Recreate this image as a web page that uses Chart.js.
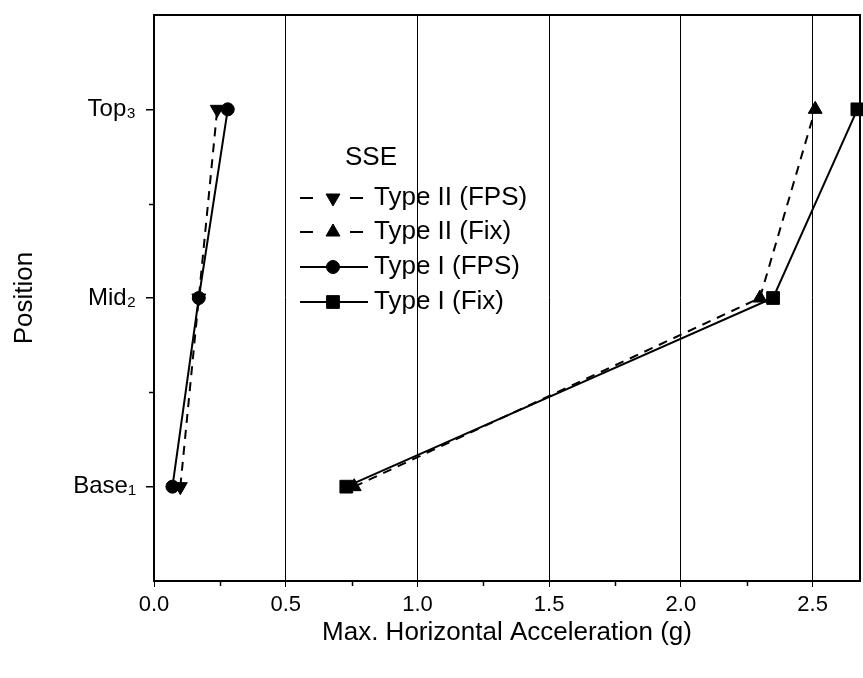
<!DOCTYPE html>
<html>
<head>
<meta charset="utf-8">
<script src="https://cdn.jsdelivr.net/npm/chart.js@4.4.1/dist/chart.umd.min.js"></script>
<style>
    html, body { margin: 0; padding: 0; background: #fff; }
    #wrap { width: 863px; height: 678px; }
</style>
</head>
<body>
<div id="wrap"><canvas id="accel-chart" width="863" height="678"></canvas></div>
<script>
// --- Data ---
const positionValues = [1, 2, 3];
const positionLabels = ['Base₁', 'Mid₂', 'Top₃'];
const xTickValues = [0, 0.5, 1.0, 1.5, 2.0, 2.5];
const xMinorTicks = [0.25, 0.75, 1.25, 1.75, 2.25];
const yMinorTicks = [1.5, 2.5];

const legendTitle = 'SSE';
const seriesNames = ['Type II (FPS)', 'Type II (Fix)', 'Type I (FPS)', 'Type I (Fix)'];
const typeIIFps = [0.10, 0.17, 0.24];
const typeIIFix = [0.76, 2.30, 2.51];
const typeIFps = [0.07, 0.17, 0.28];
const typeIFix = [0.73, 2.35, 2.67];

const FONT = "'Liberation Sans', Arial, sans-serif";

const toPoints = vals => vals.map((x, i) => ({ x, y: positionValues[i] }));

const makeSeries = (label, values, pointStyle, dashed, radius, rotation) => ({
    label,
    data: toPoints(values),
    showLine: true,
    borderColor: '#000',
    backgroundColor: '#000',
    borderWidth: 2,
    borderDash: dashed ? [9, 7] : [],
    pointStyle,
    pointRadius: radius,
    pointRotation: rotation,
    pointBorderWidth: 1,
    pointBorderColor: '#000',
    pointBackgroundColor: '#000',
    clip: false
});

const datasets = [
    makeSeries(seriesNames[0], typeIIFps, 'triangle', true, 8, 180),
    makeSeries(seriesNames[1], typeIIFix, 'triangle', true, 8, 0),
    makeSeries(seriesNames[2], typeIFps, 'circle', false, 6.5, 0),
    makeSeries(seriesNames[3], typeIFix, 'rect', false, 9, 0)
];

// --- Frame, minor ticks and the inside legend ---
const framePlugin = {
    id: 'frameAndLegend',
    afterDraw(chart) {
        const { ctx, chartArea: { left, right, top, bottom } } = chart;
        const xScale = chart.scales.x;
        const yScale = chart.scales.y;
        ctx.save();
        ctx.strokeStyle = '#000';
        ctx.lineWidth = 2;
        ctx.beginPath();
        ctx.moveTo(left, top);
        ctx.lineTo(right, top);
        ctx.lineTo(right, bottom);
        ctx.stroke();

        // minor ticks
        ctx.lineWidth = 1.5;
        ctx.beginPath();
        xMinorTicks.forEach(v => {
            const px = Math.round(xScale.getPixelForValue(v)) + 0.5;
            ctx.moveTo(px, bottom);
            ctx.lineTo(px, bottom + 5);
        });
        yMinorTicks.forEach(v => {
            const py = Math.round(yScale.getPixelForValue(v)) + 0.5;
            ctx.moveTo(left - 5, py);
            ctx.lineTo(left, py);
        });
        ctx.stroke();

        // legend
        ctx.fillStyle = '#000';
        ctx.font = `26px ${FONT}`;
        ctx.textBaseline = 'middle';
        ctx.textAlign = 'left';
        ctx.fillText(legendTitle, 345, 158);

        const rowY = [198, 232, 267, 302];
        chart.data.datasets.forEach((ds, i) => {
            const y = rowY[i];
            ctx.lineWidth = 2;
            ctx.setLineDash([]);
            ctx.beginPath();
            if (ds.borderDash.length) {
                ctx.moveTo(300, y); ctx.lineTo(313, y);
                ctx.moveTo(350, y); ctx.lineTo(363, y);
            } else {
                ctx.moveTo(300, y); ctx.lineTo(368, y);
            }
            ctx.stroke();
            ctx.lineWidth = 1;
            Chart.helpers.drawPoint(ctx, {
                pointStyle: ds.pointStyle,
                rotation: ds.pointRotation,
                radius: ds.pointRadius,
                borderWidth: 1
            }, 333, y);
            ctx.fillText(ds.label, 374, y);
        });
        ctx.restore();
    }
};

new Chart(document.getElementById('accel-chart').getContext('2d'), {
    type: 'scatter',
    data: { datasets },
    options: {
        responsive: false,
        animation: false,
        layout: { autoPadding: false, padding: { top: 15, right: 3, left: 0, bottom: 0 } },
        plugins: {
            legend: { display: false },
            tooltip: { enabled: false }
        },
        scales: {
            x: {
                type: 'linear',
                position: 'bottom',
                min: 0,
                max: 2.68,
                afterBuildTicks: s => { s.ticks = xTickValues.map(v => ({ value: v })); },
                afterFit: s => {
                    s.height = 97;
                    s.paddingLeft = 0;
                    s.paddingRight = 0;
                },
                ticks: {
                    callback: v => Number(v).toFixed(1),
                    color: '#000',
                    font: { family: FONT, size: 22 },
                    padding: 5,
                    maxRotation: 0,
                    autoSkip: false
                },
                grid: { color: '#000', lineWidth: 1, tickLength: 6, drawOnChartArea: true },
                border: { color: '#000', width: 2 },
                title: {
                    display: true,
                    text: 'Max. Horizontal Acceleration (g)',
                    color: '#000',
                    font: { family: FONT, size: 26 },
                    padding: { top: 0, bottom: 30 }
                }
            },
            y: {
                type: 'linear',
                min: 0.5,
                max: 3.5,
                afterBuildTicks: s => { s.ticks = positionValues.map(v => ({ value: v })); },
                afterFit: s => {
                    s.width = 154;
                    s.paddingTop = 0;
                    s.paddingBottom = 0;
                },
                ticks: {
                    callback: v => positionLabels[positionValues.indexOf(v)] ?? '',
                    color: '#000',
                    font: { family: FONT, size: 24 },
                    padding: 10
                },
                grid: { drawOnChartArea: false, color: '#000', lineWidth: 1.5, tickLength: 8 },
                border: { color: '#000', width: 2 },
                title: {
                    display: true,
                    text: 'Position',
                    color: '#000',
                    font: { family: FONT, size: 26 },
                    padding: { top: 9, bottom: 0 }
                }
            }
        }
    },
    plugins: [framePlugin]
});
</script>
</body>
</html>
